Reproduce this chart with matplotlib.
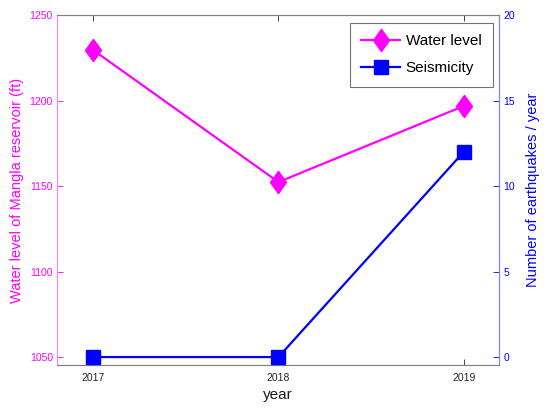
import matplotlib
matplotlib.use("Agg")
import matplotlib.pyplot as plt
from matplotlib.path import Path

plt.rcParams['font.family'] = ['Liberation Sans', 'DejaVu Sans']

# data
years = [2017, 2018, 2019]
water_level = [1229.5, 1152.3, 1196.8]   # ft
seismicity = [0, 0, 12]                 # earthquakes / year

left_ticks = [1050, 1100, 1150, 1200, 1250]
right_ticks = [0, 5, 10, 15, 20]

magenta = '#ff00ff'
blue = '#0000ff'

# MATLAB-like diamond (taller than wide)
diamond = Path([(0, 1), (0.72, 0), (0, -1), (-0.72, 0), (0, 1)],
               [Path.MOVETO, Path.LINETO, Path.LINETO, Path.LINETO, Path.CLOSEPOLY])

fig = plt.figure(figsize=(5.5, 4.09), dpi=100)
ax = fig.add_axes([57 / 550, 44 / 409, 442 / 550, 350 / 409])
ax2 = ax.twinx()

l1, = ax.plot(years, water_level, color=magenta, lw=1.6, marker=diamond,
              markersize=16, markerfacecolor=magenta, markeredgecolor=magenta,
              label='Water level', zorder=3)
l2, = ax2.plot(years, seismicity, color=blue, lw=1.6, marker='s',
               markersize=9.5, markerfacecolor=blue, markeredgecolor=blue,
               label='Seismicity', zorder=3)

ax.set_xlim(2016.805, 2019.19)
ax.set_ylim(1045.35, 1250)
ax2.set_ylim(-0.465, 20)

ax.set_xticks(years)
ax.set_xticklabels([str(y) for y in years])
ax.set_yticks(left_ticks)
ax2.set_yticks(right_ticks)

ax.tick_params(axis='x', direction='in', top=True, length=4, width=0.6,
               colors='#262626', labelsize=7.5, pad=6)
ax.tick_params(axis='y', direction='in', length=4, width=0.6,
               colors=magenta, labelsize=7.5, pad=3)
ax2.tick_params(axis='y', direction='in', length=4, width=0.6,
                colors=blue, labelsize=7.5, pad=3)
ax2.tick_params(axis='x', top=False, bottom=False)

for a in (ax, ax2):
    a.spines['top'].set_color('#808080')
    a.spines['bottom'].set_color('#808080')
    a.spines['left'].set_color('#f08cf0')
    a.spines['right'].set_color('#8080f0')
    for s in a.spines.values():
        s.set_linewidth(0.8)

ax.set_xlabel('year', fontsize=11, color='#1a1a1a', labelpad=3)
ax.set_ylabel('Water level of Mangla reservoir (ft)', fontsize=10.5,
              color=magenta, labelpad=4)
ax2.set_ylabel('Number of earthquakes / year', fontsize=10.5,
               color=blue, labelpad=8)

leg = ax.legend([l1, l2], ['Water level', 'Seismicity'], loc='upper right',
                bbox_to_anchor=(493 / 550, 386 / 409), bbox_transform=fig.transFigure,
                borderaxespad=0, fontsize=11, handlelength=2.5, frameon=True,
                fancybox=False, borderpad=0.75, labelspacing=0.85,
                handletextpad=0.4)
leg.get_frame().set_edgecolor('#4d4d4d')
leg.get_frame().set_linewidth(0.8)
leg.set_zorder(10)

fig.savefig('out.png', dpi=100)
